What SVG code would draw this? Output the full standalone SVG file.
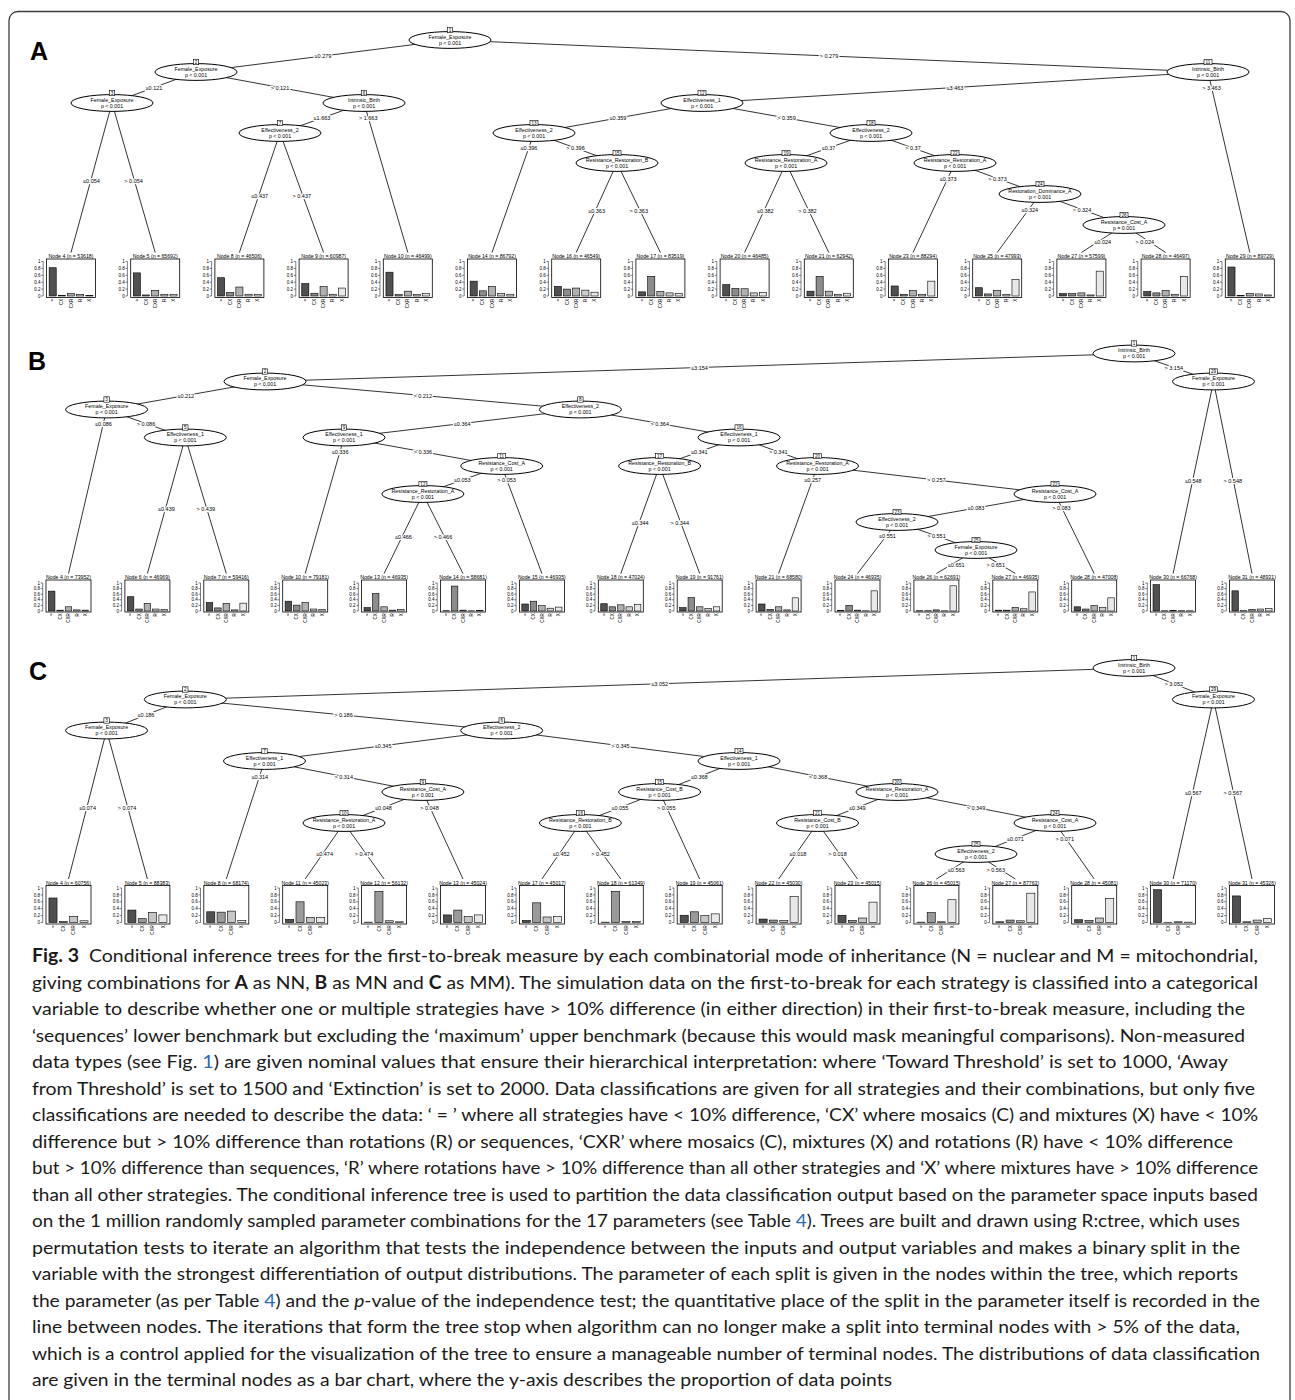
<svg xmlns="http://www.w3.org/2000/svg" xmlns:xlink="http://www.w3.org/1999/xlink" width="1295" height="1400" viewBox="0 0 1295 1400">
<style>
text{font-family:"Liberation Sans",Arial,sans-serif;fill:#000}
.fr{fill:none;stroke:#3c3c3c;stroke-width:1.3}
.pl{font-size:25px;font-weight:bold}
.ed{fill:none;stroke:#000;stroke-width:0.8}
.nd ellipse{fill:#fff;stroke:#000;stroke-width:1}
.nd rect{fill:#fff;stroke:#000;stroke-width:0.6}
.nd text{font-size:5.3px;text-anchor:middle}
.nd text.id{font-size:4.6px}
.el{font-size:5.5px;text-anchor:middle;stroke:#fff;stroke-width:2.4px;paint-order:stroke;stroke-linejoin:round}
.bx{fill:none;stroke:#000;stroke-width:0.8}
.ax{fill:none;stroke:#000;stroke-width:0.5}
.tk{font-size:4.5px;text-anchor:end}
.xl{font-size:4.5px;text-anchor:end}
.tt{font-size:5.2px;text-anchor:middle}
.c1,.c2,.c3,.c4,.c5,.d1,.d2,.d3,.d4{stroke:#000;stroke-width:0.6}
.c1{fill:#505050}.c2{fill:#8c8c8c}.c3{fill:#b0b0b0}.c4{fill:#cecece}.c5{fill:#e8e8e8}
.d1{fill:#505050}.d2{fill:#9a9a9a}.d3{fill:#c6c6c6}.d4{fill:#e8e8e8}
.cap{font-family:Lato,"Open Sans",sans-serif;font-size:18px;fill:#1a1a1a}
.b{font-weight:bold}
.i{font-style:italic}
.lk{fill:#2b6cb0}
</style>
<defs>
<g id="fa">
<rect class="bx" x="0" y="259" width="49" height="38.5"/>
<path class="ax" d="M-3.3,296V261.5M-5.3,296h2M-5.3,289.1h2M-5.3,282.2h2M-5.3,275.3h2M-5.3,268.4h2M-5.3,261.5h2"/>
<text class="tk" x="-6" y="297.6">0</text><text class="tk" x="-6" y="290.7">0.2</text><text class="tk" x="-6" y="283.8">0.4</text><text class="tk" x="-6" y="276.9">0.6</text><text class="tk" x="-6" y="270">0.8</text><text class="tk" x="-6" y="263.1">1</text>
<text class="xl" transform="translate(7.8,298.8) rotate(-90)">=</text>
<text class="xl" transform="translate(16.9,298.8) rotate(-90)">CX</text>
<text class="xl" transform="translate(26.1,298.8) rotate(-90)">CXR</text>
<text class="xl" transform="translate(35.3,298.8) rotate(-90)">R</text>
<text class="xl" transform="translate(44.4,298.8) rotate(-90)">X</text>
</g>
<g id="fb">
<rect class="bx" x="0" y="580" width="45" height="32"/>
<path class="ax" d="M-3.3,611V583M-5.3,611h2M-5.3,605.4h2M-5.3,599.8h2M-5.3,594.2h2M-5.3,588.6h2M-5.3,583h2"/>
<text class="tk" x="-6" y="612.6">0</text><text class="tk" x="-6" y="607">0.2</text><text class="tk" x="-6" y="601.4">0.4</text><text class="tk" x="-6" y="595.8">0.6</text><text class="tk" x="-6" y="590.2">0.8</text><text class="tk" x="-6" y="584.6">1</text>
<text class="xl" transform="translate(7.3,613.3) rotate(-90)">=</text>
<text class="xl" transform="translate(15.7,613.3) rotate(-90)">CX</text>
<text class="xl" transform="translate(24.1,613.3) rotate(-90)">CXR</text>
<text class="xl" transform="translate(32.5,613.3) rotate(-90)">R</text>
<text class="xl" transform="translate(40.9,613.3) rotate(-90)">X</text>
</g>
<g id="fc">
<rect class="bx" x="0" y="885.5" width="45" height="38.5"/>
<path class="ax" d="M-3.3,922.5V888M-5.3,922.5h2M-5.3,915.6h2M-5.3,908.7h2M-5.3,901.8h2M-5.3,894.9h2M-5.3,888h2"/>
<text class="tk" x="-6" y="924.1">0</text><text class="tk" x="-6" y="917.2">0.2</text><text class="tk" x="-6" y="910.3">0.4</text><text class="tk" x="-6" y="903.4">0.6</text><text class="tk" x="-6" y="896.5">0.8</text><text class="tk" x="-6" y="889.6">1</text>
<text class="xl" transform="translate(8.6,925.3) rotate(-90)">=</text>
<text class="xl" transform="translate(18.9,925.3) rotate(-90)">CX</text>
<text class="xl" transform="translate(29.3,925.3) rotate(-90)">CXR</text>
<text class="xl" transform="translate(39.6,925.3) rotate(-90)">X</text>
</g>
</defs>

<rect class="fr" x="9" y="11.5" width="1281" height="1420" rx="9"/>
<text class="pl" x="30" y="60">A</text>
<text class="pl" x="28" y="370">B</text>
<text class="pl" x="29" y="680">C</text>

<g id="connectors">
<path class="ed" d="M450,40L196,72M450,40L1208,72M196,72L112,103M196,72L364,103M112,103L71,252.5M112,103L155.2,252.5M364,103L280,133M364,103L407.8,252.5M280,133L239.4,252.5M280,133L323.6,252.5M1208,72L702,103M1208,72L1249.8,252.5M702,103L534,133M702,103L871,133M534,133L492,252.5M534,133L617,163M617,163L576.2,252.5M617,163L660.4,252.5M871,133L786,163M871,133L955,163M786,163L744.6,252.5M786,163L828.8,252.5M955,163L913,252.5M955,163L1040,194M1040,194L997.2,252.5M1040,194L1124,225M1124,225L1081.4,252.5M1124,225L1165.6,252.5"/>
<path class="ed" d="M1134,353.5L265,381.5M1134,353.5L1213.5,381.5M265,381.5L106.6,409.5M265,381.5L580.4,409.5M106.6,409.5L68.5,573.5M106.6,409.5L185.3,437.5M185.3,437.5L147.4,573.5M185.3,437.5L226.3,573.5M580.4,409.5L344,437.5M580.4,409.5L739,437.5M344,437.5L305.2,573.5M344,437.5L501.7,466M501.7,466L422.9,494M501.7,466L541.9,573.5M422.9,494L384.1,573.5M422.9,494L463,573.5M739,437.5L659.6,466M739,437.5L817.5,466M659.6,466L620.8,573.5M659.6,466L699.7,573.5M817.5,466L778.6,573.5M817.5,466L1055,494M1055,494L897,522M1055,494L1094.2,573.5M897,522L857.5,573.5M897,522L976,550M976,550L936.4,573.5M976,550L1015.3,573.5M1213.5,381.5L1173.1,573.5M1213.5,381.5L1252,573.5"/>
<path class="ed" d="M1134,668L185.3,699.5M1134,668L1213.5,699.5M185.3,699.5L106.6,730.5M185.3,699.5L501.7,730.5M106.6,730.5L68.5,879M106.6,730.5L147.4,879M501.7,730.5L264.5,761M501.7,730.5L739,761M264.5,761L226.3,879M264.5,761L422.9,792M422.9,792L344,823M422.9,792L463,879M344,823L305.2,879M344,823L384.1,879M739,761L659.6,792M739,761L897,792M659.6,792L580.4,823M659.6,792L699.7,879M580.4,823L541.9,879M580.4,823L620.8,879M897,792L817.5,823M897,792L1055,823M817.5,823L778.6,879M817.5,823L857.5,879M1055,823L976,854M1055,823L1094.2,879M976,854L936.4,879M976,854L1015.3,879M1213.5,699.5L1173.1,879M1213.5,699.5L1252,879"/>
<g id="edge-labels-A">
<text class="el" x="323" y="58">≤0.279</text><text class="el" x="829" y="58">&gt; 0.279</text>
<text class="el" x="154" y="89.5">≤0.121</text><text class="el" x="280" y="89.5">&gt; 0.121</text>
<text class="el" x="91.5" y="183">≤0.054</text><text class="el" x="133.6" y="183">&gt; 0.054</text>
<text class="el" x="322" y="120">≤1.663</text><text class="el" x="368.2" y="120">&gt; 1.663</text>
<text class="el" x="259.7" y="198">≤0.437</text><text class="el" x="301.8" y="198">&gt; 0.437</text>
<text class="el" x="955" y="89.5">≤3.463</text><text class="el" x="1211.5" y="89.5">&gt; 3.463</text>
<text class="el" x="618" y="120">≤0.359</text><text class="el" x="786.5" y="120">&gt; 0.359</text>
<text class="el" x="529" y="150">≤0.396</text><text class="el" x="575.5" y="150">&gt; 0.396</text>
<text class="el" x="596.6" y="213">≤0.363</text><text class="el" x="638.7" y="213">&gt; 0.363</text>
<text class="el" x="828.5" y="150">≤0.37</text><text class="el" x="913" y="150">&gt; 0.37</text>
<text class="el" x="765.3" y="213">≤0.382</text><text class="el" x="807.4" y="213">&gt; 0.382</text>
<text class="el" x="948.2" y="180.5">≤0.373</text><text class="el" x="997.5" y="180.5">&gt; 0.373</text>
<text class="el" x="1029.8" y="211.5">≤0.324</text><text class="el" x="1082" y="211.5">&gt; 0.324</text>
<text class="el" x="1102.7" y="244">≤0.024</text><text class="el" x="1144.8" y="244">&gt; 0.024</text>
</g>
<g id="edge-labels-B">
<text class="el" x="699.5" y="369.5">≤3.154</text><text class="el" x="1173.8" y="369.5">&gt; 3.154</text>
<text class="el" x="185.8" y="397.5">≤0.212</text><text class="el" x="422.7" y="397.5">&gt; 0.212</text>
<text class="el" x="103.5" y="425.5">≤0.086</text><text class="el" x="146" y="425.5">&gt; 0.086</text>
<text class="el" x="166.4" y="510.8">≤0.439</text><text class="el" x="205.8" y="510.8">&gt; 0.439</text>
<text class="el" x="462.2" y="425.5">≤0.364</text><text class="el" x="659.7" y="425.5">&gt; 0.364</text>
<text class="el" x="340.1" y="453.8">≤0.336</text><text class="el" x="422.9" y="453.8">&gt; 0.336</text>
<text class="el" x="462.3" y="482">≤0.053</text><text class="el" x="506.6" y="482">&gt; 0.053</text>
<text class="el" x="403.5" y="539">≤0.466</text><text class="el" x="443" y="539">&gt; 0.466</text>
<text class="el" x="699.3" y="453.8">≤0.341</text><text class="el" x="778.3" y="453.8">&gt; 0.341</text>
<text class="el" x="640.2" y="525">≤0.344</text><text class="el" x="679.7" y="525">&gt; 0.344</text>
<text class="el" x="812.7" y="482">≤0.257</text><text class="el" x="936.3" y="482">&gt; 0.257</text>
<text class="el" x="976" y="510">≤0.083</text><text class="el" x="1061.4" y="510">&gt; 0.083</text>
<text class="el" x="887.5" y="538">≤0.551</text><text class="el" x="936.5" y="538">&gt; 0.551</text>
<text class="el" x="956.2" y="567">≤0.651</text><text class="el" x="995.7" y="567">&gt; 0.651</text>
<text class="el" x="1193.3" y="482.8">≤0.548</text><text class="el" x="1232.8" y="482.8">&gt; 0.548</text>
</g>
<g id="edge-labels-C">
<text class="el" x="659.7" y="685.8">≤3.052</text><text class="el" x="1173.8" y="685.8">&gt; 3.052</text>
<text class="el" x="146" y="717">≤0.186</text><text class="el" x="343.5" y="717">&gt; 0.186</text>
<text class="el" x="87.6" y="810">≤0.074</text><text class="el" x="127" y="810">&gt; 0.074</text>
<text class="el" x="383.1" y="747.8">≤0.345</text><text class="el" x="620.4" y="747.8">&gt; 0.345</text>
<text class="el" x="259.8" y="778.5">≤0.314</text><text class="el" x="343.7" y="778.5">&gt; 0.314</text>
<text class="el" x="383.5" y="809.5">≤0.048</text><text class="el" x="429.5" y="809.5">&gt; 0.048</text>
<text class="el" x="324.6" y="856.3">≤0.474</text><text class="el" x="364" y="856.3">&gt; 0.474</text>
<text class="el" x="699.3" y="778.5">≤0.368</text><text class="el" x="818" y="778.5">&gt; 0.368</text>
<text class="el" x="620" y="809.5">≤0.055</text><text class="el" x="666.2" y="809.5">&gt; 0.055</text>
<text class="el" x="561.2" y="856.3">≤0.452</text><text class="el" x="600.6" y="856.3">&gt; 0.452</text>
<text class="el" x="857.3" y="809.5">≤0.349</text><text class="el" x="976" y="809.5">&gt; 0.349</text>
<text class="el" x="798" y="856.3">≤0.018</text><text class="el" x="837.5" y="856.3">&gt; 0.018</text>
<text class="el" x="1015.5" y="840.5">≤0.071</text><text class="el" x="1064.7" y="840.5">&gt; 0.071</text>
<text class="el" x="956.2" y="871.8">≤0.563</text><text class="el" x="995.7" y="871.8">&gt; 0.563</text>
<text class="el" x="1193.3" y="794.5">≤0.567</text><text class="el" x="1232.8" y="794.5">&gt; 0.567</text>
</g>
</g>

<!-- Panel A inner nodes -->
<g id="a-n1" class="nd"><ellipse cx="450" cy="40" rx="41" ry="8.4"/><rect x="447.3" y="27.3" width="5.4" height="5.4"/><text class="id" x="450" y="31.6">1</text><text x="450" y="38.5">Female_Exposure</text><text x="450" y="44.5">p &lt; 0.001</text></g>
<g id="a-n2" class="nd"><ellipse cx="196" cy="72" rx="41" ry="8.4"/><rect x="193.3" y="59.3" width="5.4" height="5.4"/><text class="id" x="196" y="63.6">2</text><text x="196" y="70.5">Female_Exposure</text><text x="196" y="76.5">p &lt; 0.001</text></g>
<g id="a-n3" class="nd"><ellipse cx="112" cy="103" rx="41" ry="8.4"/><rect x="109.3" y="90.3" width="5.4" height="5.4"/><text class="id" x="112" y="94.6">3</text><text x="112" y="101.5">Female_Exposure</text><text x="112" y="107.5">p &lt; 0.001</text></g>
<g id="a-n6" class="nd"><ellipse cx="364" cy="103" rx="41" ry="8.4"/><rect x="361.3" y="90.3" width="5.4" height="5.4"/><text class="id" x="364" y="94.6">6</text><text x="364" y="101.5">Intrinsic_Birth</text><text x="364" y="107.5">p &lt; 0.001</text></g>
<g id="a-n7" class="nd"><ellipse cx="280" cy="133" rx="41" ry="8.4"/><rect x="277.3" y="120.3" width="5.4" height="5.4"/><text class="id" x="280" y="124.6">7</text><text x="280" y="131.5">Effectiveness_2</text><text x="280" y="137.5">p &lt; 0.001</text></g>
<g id="a-n11" class="nd"><ellipse cx="1208" cy="72" rx="41" ry="8.4"/><rect x="1204" y="59.3" width="8" height="5.4"/><text class="id" x="1208" y="63.6">11</text><text x="1208" y="70.5">Intrinsic_Birth</text><text x="1208" y="76.5">p &lt; 0.001</text></g>
<g id="a-n12" class="nd"><ellipse cx="702" cy="103" rx="41" ry="8.4"/><rect x="698" y="90.3" width="8" height="5.4"/><text class="id" x="702" y="94.6">12</text><text x="702" y="101.5">Effectiveness_1</text><text x="702" y="107.5">p &lt; 0.001</text></g>
<g id="a-n13" class="nd"><ellipse cx="534" cy="133" rx="41" ry="8.4"/><rect x="530" y="120.3" width="8" height="5.4"/><text class="id" x="534" y="124.6">13</text><text x="534" y="131.5">Effectiveness_2</text><text x="534" y="137.5">p &lt; 0.001</text></g>
<g id="a-n15" class="nd"><ellipse cx="617" cy="163" rx="41" ry="8.4"/><rect x="613" y="150.3" width="8" height="5.4"/><text class="id" x="617" y="154.6">15</text><text x="617" y="161.5">Resistance_Restoration_B</text><text x="617" y="167.5">p &lt; 0.001</text></g>
<g id="a-n18" class="nd"><ellipse cx="871" cy="133" rx="41" ry="8.4"/><rect x="867" y="120.3" width="8" height="5.4"/><text class="id" x="871" y="124.6">18</text><text x="871" y="131.5">Effectiveness_2</text><text x="871" y="137.5">p &lt; 0.001</text></g>
<g id="a-n19" class="nd"><ellipse cx="786" cy="163" rx="41" ry="8.4"/><rect x="782" y="150.3" width="8" height="5.4"/><text class="id" x="786" y="154.6">19</text><text x="786" y="161.5">Resistance_Restoration_A</text><text x="786" y="167.5">p &lt; 0.001</text></g>
<g id="a-n22" class="nd"><ellipse cx="955" cy="163" rx="41" ry="8.4"/><rect x="951" y="150.3" width="8" height="5.4"/><text class="id" x="955" y="154.6">22</text><text x="955" y="161.5">Resistance_Restoration_A</text><text x="955" y="167.5">p &lt; 0.001</text></g>
<g id="a-n24" class="nd"><ellipse cx="1040" cy="194" rx="41" ry="8.4"/><rect x="1036" y="181.3" width="8" height="5.4"/><text class="id" x="1040" y="185.6">24</text><text x="1040" y="192.5">Restoration_Dominance_A</text><text x="1040" y="198.5">p &lt; 0.001</text></g>
<g id="a-n26" class="nd"><ellipse cx="1124" cy="225" rx="41" ry="8.4"/><rect x="1120" y="212.3" width="8" height="5.4"/><text class="id" x="1124" y="216.6">26</text><text x="1124" y="223.5">Resistance_Cost_A</text><text x="1124" y="229.5">p = 0.001</text></g>

<!-- Panel A terminal nodes -->
<g id="a-t4" transform="translate(46.5,0)"><use href="#fa"/><text class="tt" x="24.5" y="257.9">Node 4 (n = 53618)</text><rect class="c1" x="2.63" y="267.71" width="7.1" height="28.29"/><rect class="c2" x="11.79" y="295.31" width="7.1" height="0.69"/><rect class="c3" x="20.95" y="293.58" width="7.1" height="2.42"/><rect class="c4" x="30.11" y="294.62" width="7.1" height="1.38"/><rect class="c5" x="39.27" y="295.31" width="7.1" height="0.69"/></g>
<g id="a-t5" transform="translate(130.7,0)"><use href="#fa"/><text class="tt" x="24.5" y="257.9">Node 5 (n = 65692)</text><rect class="c1" x="2.63" y="272.88" width="7.1" height="23.12"/><rect class="c2" x="11.79" y="294.96" width="7.1" height="1.04"/><rect class="c3" x="20.95" y="290.48" width="7.1" height="5.52"/><rect class="c4" x="30.11" y="294.27" width="7.1" height="1.73"/><rect class="c5" x="39.27" y="294.27" width="7.1" height="1.73"/></g>
<g id="a-t8" transform="translate(214.9,0)"><use href="#fa"/><text class="tt" x="24.5" y="257.9">Node 8 (n = 46506)</text><rect class="c1" x="2.63" y="277.71" width="7.1" height="18.29"/><rect class="c2" x="11.79" y="292.55" width="7.1" height="3.45"/><rect class="c3" x="20.95" y="287.03" width="7.1" height="8.97"/><rect class="c4" x="30.11" y="294.27" width="7.1" height="1.73"/><rect class="c5" x="39.27" y="294.62" width="7.1" height="1.38"/></g>
<g id="a-t9" transform="translate(299.1,0)"><use href="#fa"/><text class="tt" x="24.5" y="257.9">Node 9 (n = 60987)</text><rect class="c1" x="2.63" y="283.58" width="7.1" height="12.42"/><rect class="c2" x="11.79" y="293.24" width="7.1" height="2.76"/><rect class="c3" x="20.95" y="286.68" width="7.1" height="9.32"/><rect class="c4" x="30.11" y="294.27" width="7.1" height="1.73"/><rect class="c5" x="39.27" y="288.06" width="7.1" height="7.94"/></g>
<g id="a-t10" transform="translate(383.3,0)"><use href="#fa"/><text class="tt" x="24.5" y="257.9">Node 10 (n = 46499)</text><rect class="c1" x="2.63" y="272.19" width="7.1" height="23.81"/><rect class="c2" x="11.79" y="294.62" width="7.1" height="1.38"/><rect class="c3" x="20.95" y="291.17" width="7.1" height="4.83"/><rect class="c4" x="30.11" y="294.62" width="7.1" height="1.38"/><rect class="c5" x="39.27" y="293.58" width="7.1" height="2.42"/></g>
<g id="a-t14" transform="translate(467.5,0)"><use href="#fa"/><text class="tt" x="24.5" y="257.9">Node 14 (n = 86792)</text><rect class="c1" x="2.63" y="281.16" width="7.1" height="14.84"/><rect class="c2" x="11.79" y="290.82" width="7.1" height="5.18"/><rect class="c3" x="20.95" y="286.34" width="7.1" height="9.66"/><rect class="c4" x="30.11" y="293.58" width="7.1" height="2.42"/><rect class="c5" x="39.27" y="294.27" width="7.1" height="1.73"/></g>
<g id="a-t16" transform="translate(551.7,0)"><use href="#fa"/><text class="tt" x="24.5" y="257.9">Node 16 (n = 46549)</text><rect class="c1" x="2.63" y="286.34" width="7.1" height="9.66"/><rect class="c2" x="11.79" y="289.1" width="7.1" height="6.9"/><rect class="c3" x="20.95" y="288.06" width="7.1" height="7.94"/><rect class="c4" x="30.11" y="290.13" width="7.1" height="5.87"/><rect class="c5" x="39.27" y="292.2" width="7.1" height="3.8"/></g>
<g id="a-t17" transform="translate(635.9,0)"><use href="#fa"/><text class="tt" x="24.5" y="257.9">Node 17 (n = 83519)</text><rect class="c1" x="2.63" y="291.86" width="7.1" height="4.14"/><rect class="c2" x="11.79" y="276.33" width="7.1" height="19.67"/><rect class="c3" x="20.95" y="291.51" width="7.1" height="4.49"/><rect class="c4" x="30.11" y="292.89" width="7.1" height="3.11"/><rect class="c5" x="39.27" y="293.58" width="7.1" height="2.42"/></g>
<g id="a-t20" transform="translate(720.1,0)"><use href="#fa"/><text class="tt" x="24.5" y="257.9">Node 20 (n = 46485)</text><rect class="c1" x="2.63" y="284.61" width="7.1" height="11.39"/><rect class="c2" x="11.79" y="288.41" width="7.1" height="7.59"/><rect class="c3" x="20.95" y="288.75" width="7.1" height="7.25"/><rect class="c4" x="30.11" y="292.89" width="7.1" height="3.11"/><rect class="c5" x="39.27" y="292.55" width="7.1" height="3.45"/></g>
<g id="a-t21" transform="translate(804.3,0)"><use href="#fa"/><text class="tt" x="24.5" y="257.9">Node 21 (n = 62942)</text><rect class="c1" x="2.63" y="291.17" width="7.1" height="4.83"/><rect class="c2" x="11.79" y="276.33" width="7.1" height="19.67"/><rect class="c3" x="20.95" y="291.17" width="7.1" height="4.83"/><rect class="c4" x="30.11" y="294.27" width="7.1" height="1.73"/><rect class="c5" x="39.27" y="293.24" width="7.1" height="2.76"/></g>
<g id="a-t23" transform="translate(888.5,0)"><use href="#fa"/><text class="tt" x="24.5" y="257.9">Node 23 (n = 88294)</text><rect class="c1" x="2.63" y="285.99" width="7.1" height="10.01"/><rect class="c2" x="11.79" y="294.27" width="7.1" height="1.73"/><rect class="c3" x="20.95" y="290.48" width="7.1" height="5.52"/><rect class="c4" x="30.11" y="294.27" width="7.1" height="1.73"/><rect class="c5" x="39.27" y="281.16" width="7.1" height="14.84"/></g>
<g id="a-t25" transform="translate(972.7,0)"><use href="#fa"/><text class="tt" x="24.5" y="257.9">Node 25 (n = 47993)</text><rect class="c1" x="2.63" y="287.72" width="7.1" height="8.28"/><rect class="c2" x="11.79" y="293.93" width="7.1" height="2.07"/><rect class="c3" x="20.95" y="290.48" width="7.1" height="5.52"/><rect class="c4" x="30.11" y="294.27" width="7.1" height="1.73"/><rect class="c5" x="39.27" y="279.44" width="7.1" height="16.56"/></g>
<g id="a-t27" transform="translate(1056.9,0)"><use href="#fa"/><text class="tt" x="24.5" y="257.9">Node 27 (n = 57599)</text><rect class="c1" x="2.63" y="293.58" width="7.1" height="2.42"/><rect class="c2" x="11.79" y="293.58" width="7.1" height="2.42"/><rect class="c3" x="20.95" y="292.89" width="7.1" height="3.11"/><rect class="c4" x="30.11" y="294.96" width="7.1" height="1.04"/><rect class="c5" x="39.27" y="271.16" width="7.1" height="24.84"/></g>
<g id="a-t28" transform="translate(1141.1,0)"><use href="#fa"/><text class="tt" x="24.5" y="257.9">Node 28 (n = 46497)</text><rect class="c1" x="2.63" y="291.51" width="7.1" height="4.49"/><rect class="c2" x="11.79" y="292.89" width="7.1" height="3.11"/><rect class="c3" x="20.95" y="290.48" width="7.1" height="5.52"/><rect class="c4" x="30.11" y="294.27" width="7.1" height="1.73"/><rect class="c5" x="39.27" y="276.33" width="7.1" height="19.67"/></g>
<g id="a-t29" transform="translate(1225.3,0)"><use href="#fa"/><text class="tt" x="24.5" y="257.9">Node 29 (n = 89729)</text><rect class="c1" x="2.63" y="267.02" width="7.1" height="28.98"/><rect class="c2" x="11.79" y="295.65" width="7.1" height="0.35"/><rect class="c3" x="20.95" y="293.58" width="7.1" height="2.42"/><rect class="c4" x="30.11" y="293.93" width="7.1" height="2.07"/><rect class="c5" x="39.27" y="294.96" width="7.1" height="1.04"/></g>

<!-- Panel B inner nodes -->
<g id="b-n1" class="nd"><ellipse cx="1134" cy="353.5" rx="41" ry="8.4"/><rect x="1131.3" y="340.8" width="5.4" height="5.4"/><text class="id" x="1134" y="345.1">1</text><text x="1134" y="352">Intrinsic_Birth</text><text x="1134" y="358">p &lt; 0.001</text></g>
<g id="b-n2" class="nd"><ellipse cx="265" cy="381.5" rx="41" ry="8.4"/><rect x="262.3" y="368.8" width="5.4" height="5.4"/><text class="id" x="265" y="373.1">2</text><text x="265" y="380">Female_Exposure</text><text x="265" y="386">p &lt; 0.001</text></g>
<g id="b-n29" class="nd"><ellipse cx="1213.5" cy="381.5" rx="41" ry="8.4"/><rect x="1209.5" y="368.8" width="8" height="5.4"/><text class="id" x="1213.5" y="373.1">29</text><text x="1213.5" y="380">Female_Exposure</text><text x="1213.5" y="386">p &lt; 0.001</text></g>
<g id="b-n3" class="nd"><ellipse cx="106.6" cy="409.5" rx="41" ry="8.4"/><rect x="103.9" y="396.8" width="5.4" height="5.4"/><text class="id" x="106.6" y="401.1">3</text><text x="106.6" y="408">Female_Exposure</text><text x="106.6" y="414">p &lt; 0.001</text></g>
<g id="b-n8" class="nd"><ellipse cx="580.4" cy="409.5" rx="41" ry="8.4"/><rect x="577.7" y="396.8" width="5.4" height="5.4"/><text class="id" x="580.4" y="401.1">8</text><text x="580.4" y="408">Effectiveness_2</text><text x="580.4" y="414">p &lt; 0.001</text></g>
<g id="b-n5" class="nd"><ellipse cx="185.3" cy="437.5" rx="41" ry="8.4"/><rect x="182.6" y="424.8" width="5.4" height="5.4"/><text class="id" x="185.3" y="429.1">5</text><text x="185.3" y="436">Effectiveness_1</text><text x="185.3" y="442">p &lt; 0.001</text></g>
<g id="b-n9" class="nd"><ellipse cx="344" cy="437.5" rx="41" ry="8.4"/><rect x="341.3" y="424.8" width="5.4" height="5.4"/><text class="id" x="344" y="429.1">9</text><text x="344" y="436">Effectiveness_1</text><text x="344" y="442">p &lt; 0.001</text></g>
<g id="b-n16" class="nd"><ellipse cx="739" cy="437.5" rx="41" ry="8.4"/><rect x="735" y="424.8" width="8" height="5.4"/><text class="id" x="739" y="429.1">16</text><text x="739" y="436">Effectiveness_1</text><text x="739" y="442">p &lt; 0.001</text></g>
<g id="b-n11" class="nd"><ellipse cx="501.7" cy="466" rx="41" ry="8.4"/><rect x="497.7" y="453.3" width="8" height="5.4"/><text class="id" x="501.7" y="457.6">11</text><text x="501.7" y="464.5">Resistance_Cost_A</text><text x="501.7" y="470.5">p &lt; 0.001</text></g>
<g id="b-n17" class="nd"><ellipse cx="659.6" cy="466" rx="41" ry="8.4"/><rect x="655.6" y="453.3" width="8" height="5.4"/><text class="id" x="659.6" y="457.6">17</text><text x="659.6" y="464.5">Resistance_Restoration_B</text><text x="659.6" y="470.5">p &lt; 0.001</text></g>
<g id="b-n20" class="nd"><ellipse cx="817.5" cy="466" rx="41" ry="8.4"/><rect x="813.5" y="453.3" width="8" height="5.4"/><text class="id" x="817.5" y="457.6">20</text><text x="817.5" y="464.5">Resistance_Restoration_A</text><text x="817.5" y="470.5">p &lt; 0.001</text></g>
<g id="b-n12" class="nd"><ellipse cx="422.9" cy="494" rx="41" ry="8.4"/><rect x="418.9" y="481.3" width="8" height="5.4"/><text class="id" x="422.9" y="485.6">12</text><text x="422.9" y="492.5">Resistance_Restoration_A</text><text x="422.9" y="498.5">p &lt; 0.001</text></g>
<g id="b-n22" class="nd"><ellipse cx="1055" cy="494" rx="41" ry="8.4"/><rect x="1051" y="481.3" width="8" height="5.4"/><text class="id" x="1055" y="485.6">22</text><text x="1055" y="492.5">Resistance_Cost_A</text><text x="1055" y="498.5">p &lt; 0.001</text></g>
<g id="b-n23" class="nd"><ellipse cx="897" cy="522" rx="41" ry="8.4"/><rect x="893" y="509.3" width="8" height="5.4"/><text class="id" x="897" y="513.6">23</text><text x="897" y="520.5">Effectiveness_2</text><text x="897" y="526.5">p &lt; 0.001</text></g>
<g id="b-n25" class="nd"><ellipse cx="976" cy="550" rx="41" ry="8.4"/><rect x="972" y="537.3" width="8" height="5.4"/><text class="id" x="976" y="541.6">25</text><text x="976" y="548.5">Female_Exposure</text><text x="976" y="554.5">p &lt; 0.001</text></g>

<!-- Panel B terminal nodes -->
<g id="b-t4" transform="translate(46,0)"><use href="#fb"/><text class="tt" x="22.5" y="578.8">Node 4 (n = 73952)</text><rect class="c1" x="2.43" y="591.12" width="6.5" height="19.88"/><rect class="c2" x="10.84" y="610.16" width="6.5" height="0.84"/><rect class="c3" x="19.25" y="606.8" width="6.5" height="4.2"/><rect class="c4" x="27.66" y="609.88" width="6.5" height="1.12"/><rect class="c5" x="36.07" y="610.16" width="6.5" height="0.84"/></g>
<g id="b-t6" transform="translate(124.9,0)"><use href="#fb"/><text class="tt" x="22.5" y="578.8">Node 6 (n = 46969)</text><rect class="c1" x="2.43" y="596.72" width="6.5" height="14.28"/><rect class="c2" x="10.84" y="609.04" width="6.5" height="1.96"/><rect class="c3" x="19.25" y="603.44" width="6.5" height="7.56"/><rect class="c4" x="27.66" y="609.04" width="6.5" height="1.96"/><rect class="c5" x="36.07" y="609.6" width="6.5" height="1.4"/></g>
<g id="b-t7" transform="translate(203.8,0)"><use href="#fb"/><text class="tt" x="22.5" y="578.8">Node 7 (n = 59416)</text><rect class="c1" x="2.43" y="602.6" width="6.5" height="8.4"/><rect class="c2" x="10.84" y="607.92" width="6.5" height="3.08"/><rect class="c3" x="19.25" y="603.44" width="6.5" height="7.56"/><rect class="c4" x="27.66" y="609.88" width="6.5" height="1.12"/><rect class="c5" x="36.07" y="603.16" width="6.5" height="7.84"/></g>
<g id="b-t10" transform="translate(282.7,0)"><use href="#fb"/><text class="tt" x="22.5" y="578.8">Node 10 (n = 79181)</text><rect class="c1" x="2.43" y="601.2" width="6.5" height="9.8"/><rect class="c2" x="10.84" y="605.12" width="6.5" height="5.88"/><rect class="c3" x="19.25" y="602.6" width="6.5" height="8.4"/><rect class="c4" x="27.66" y="609.04" width="6.5" height="1.96"/><rect class="c5" x="36.07" y="609.32" width="6.5" height="1.68"/></g>
<g id="b-t13" transform="translate(361.6,0)"><use href="#fb"/><text class="tt" x="22.5" y="578.8">Node 13 (n = 46935)</text><rect class="c1" x="2.43" y="607.64" width="6.5" height="3.36"/><rect class="c2" x="10.84" y="593.64" width="6.5" height="17.36"/><rect class="c3" x="19.25" y="606.8" width="6.5" height="4.2"/><rect class="c4" x="27.66" y="610.16" width="6.5" height="0.84"/><rect class="c5" x="36.07" y="609.32" width="6.5" height="1.68"/></g>
<g id="b-t14" transform="translate(440.5,0)"><use href="#fb"/><text class="tt" x="22.5" y="578.8">Node 14 (n = 58681)</text><rect class="c1" x="2.43" y="610.72" width="6.5" height="0.28"/><rect class="c2" x="10.84" y="586.08" width="6.5" height="24.92"/><rect class="c3" x="19.25" y="610.16" width="6.5" height="0.84"/><rect class="c4" x="27.66" y="610.8" width="6.5" height="0.2"/><rect class="c5" x="36.07" y="610.44" width="6.5" height="0.56"/></g>
<g id="b-t15" transform="translate(519.4,0)"><use href="#fb"/><text class="tt" x="22.5" y="578.8">Node 15 (n = 46935)</text><rect class="c1" x="2.43" y="604" width="6.5" height="7"/><rect class="c2" x="10.84" y="601.2" width="6.5" height="9.8"/><rect class="c3" x="19.25" y="605.68" width="6.5" height="5.32"/><rect class="c4" x="27.66" y="608.2" width="6.5" height="2.8"/><rect class="c5" x="36.07" y="607.08" width="6.5" height="3.92"/></g>
<g id="b-t18" transform="translate(598.3,0)"><use href="#fb"/><text class="tt" x="22.5" y="578.8">Node 18 (n = 47024)</text><rect class="c1" x="2.43" y="603.72" width="6.5" height="7.28"/><rect class="c2" x="10.84" y="606.8" width="6.5" height="4.2"/><rect class="c3" x="19.25" y="604.84" width="6.5" height="6.16"/><rect class="c4" x="27.66" y="606.8" width="6.5" height="4.2"/><rect class="c5" x="36.07" y="604.28" width="6.5" height="6.72"/></g>
<g id="b-t19" transform="translate(677.2,0)"><use href="#fb"/><text class="tt" x="22.5" y="578.8">Node 19 (n = 91761)</text><rect class="c1" x="2.43" y="607.64" width="6.5" height="3.36"/><rect class="c2" x="10.84" y="597.56" width="6.5" height="13.44"/><rect class="c3" x="19.25" y="606.8" width="6.5" height="4.2"/><rect class="c4" x="27.66" y="608.48" width="6.5" height="2.52"/><rect class="c5" x="36.07" y="606.8" width="6.5" height="4.2"/></g>
<g id="b-t21" transform="translate(756.1,0)"><use href="#fb"/><text class="tt" x="22.5" y="578.8">Node 21 (n = 68580)</text><rect class="c1" x="2.43" y="604" width="6.5" height="7"/><rect class="c2" x="10.84" y="609.32" width="6.5" height="1.68"/><rect class="c3" x="19.25" y="606.8" width="6.5" height="4.2"/><rect class="c4" x="27.66" y="609.88" width="6.5" height="1.12"/><rect class="c5" x="36.07" y="597.84" width="6.5" height="13.16"/></g>
<g id="b-t24" transform="translate(835,0)"><use href="#fb"/><text class="tt" x="22.5" y="578.8">Node 24 (n = 46935)</text><rect class="c1" x="2.43" y="610.44" width="6.5" height="0.56"/><rect class="c2" x="10.84" y="605.4" width="6.5" height="5.6"/><rect class="c3" x="19.25" y="610.16" width="6.5" height="0.84"/><rect class="c4" x="27.66" y="610.8" width="6.5" height="0.2"/><rect class="c5" x="36.07" y="590.84" width="6.5" height="20.16"/></g>
<g id="b-t26" transform="translate(913.9,0)"><use href="#fb"/><text class="tt" x="22.5" y="578.8">Node 26 (n = 62691)</text><rect class="c1" x="2.43" y="610.72" width="6.5" height="0.28"/><rect class="c2" x="10.84" y="610.72" width="6.5" height="0.28"/><rect class="c3" x="19.25" y="609.88" width="6.5" height="1.12"/><rect class="c4" x="27.66" y="610.8" width="6.5" height="0.2"/><rect class="c5" x="36.07" y="585.8" width="6.5" height="25.2"/></g>
<g id="b-t27" transform="translate(992.8,0)"><use href="#fb"/><text class="tt" x="22.5" y="578.8">Node 27 (n = 46935)</text><rect class="c1" x="2.43" y="610.16" width="6.5" height="0.84"/><rect class="c2" x="10.84" y="610.16" width="6.5" height="0.84"/><rect class="c3" x="19.25" y="607.36" width="6.5" height="3.64"/><rect class="c4" x="27.66" y="608.76" width="6.5" height="2.24"/><rect class="c5" x="36.07" y="591.96" width="6.5" height="19.04"/></g>
<g id="b-t28" transform="translate(1071.7,0)"><use href="#fb"/><text class="tt" x="22.5" y="578.8">Node 28 (n = 47008)</text><rect class="c1" x="2.43" y="606.8" width="6.5" height="4.2"/><rect class="c2" x="10.84" y="609.04" width="6.5" height="1.96"/><rect class="c3" x="19.25" y="605.68" width="6.5" height="5.32"/><rect class="c4" x="27.66" y="607.64" width="6.5" height="3.36"/><rect class="c5" x="36.07" y="597.84" width="6.5" height="13.16"/></g>
<g id="b-t30" transform="translate(1150.6,0)"><use href="#fb"/><text class="tt" x="22.5" y="578.8">Node 30 (n = 66768)</text><rect class="c1" x="2.43" y="584.68" width="6.5" height="26.32"/><rect class="c2" x="10.84" y="610.8" width="6.5" height="0.2"/><rect class="c3" x="19.25" y="610.44" width="6.5" height="0.56"/><rect class="c4" x="27.66" y="610.72" width="6.5" height="0.28"/><rect class="c5" x="36.07" y="610.8" width="6.5" height="0.2"/></g>
<g id="b-t31" transform="translate(1229.5,0)"><use href="#fb"/><text class="tt" x="22.5" y="578.8">Node 31 (n = 48931)</text><rect class="c1" x="2.43" y="590.84" width="6.5" height="20.16"/><rect class="c2" x="10.84" y="610.72" width="6.5" height="0.28"/><rect class="c3" x="19.25" y="609.32" width="6.5" height="1.68"/><rect class="c4" x="27.66" y="609.04" width="6.5" height="1.96"/><rect class="c5" x="36.07" y="608.48" width="6.5" height="2.52"/></g>

<!-- Panel C inner nodes -->
<g id="c-n1" class="nd"><ellipse cx="1134" cy="668" rx="41" ry="8.4"/><rect x="1131.3" y="655.3" width="5.4" height="5.4"/><text class="id" x="1134" y="659.6">1</text><text x="1134" y="666.5">Intrinsic_Birth</text><text x="1134" y="672.5">p &lt; 0.001</text></g>
<g id="c-n2" class="nd"><ellipse cx="185.3" cy="699.5" rx="41" ry="8.4"/><rect x="182.6" y="686.8" width="5.4" height="5.4"/><text class="id" x="185.3" y="691.1">2</text><text x="185.3" y="698">Female_Exposure</text><text x="185.3" y="704">p &lt; 0.001</text></g>
<g id="c-n29" class="nd"><ellipse cx="1213.5" cy="699.5" rx="41" ry="8.4"/><rect x="1209.5" y="686.8" width="8" height="5.4"/><text class="id" x="1213.5" y="691.1">29</text><text x="1213.5" y="698">Female_Exposure</text><text x="1213.5" y="704">p &lt; 0.001</text></g>
<g id="c-n3" class="nd"><ellipse cx="106.6" cy="730.5" rx="41" ry="8.4"/><rect x="103.9" y="717.8" width="5.4" height="5.4"/><text class="id" x="106.6" y="722.1">3</text><text x="106.6" y="729">Female_Exposure</text><text x="106.6" y="735">p &lt; 0.001</text></g>
<g id="c-n6" class="nd"><ellipse cx="501.7" cy="730.5" rx="41" ry="8.4"/><rect x="499" y="717.8" width="5.4" height="5.4"/><text class="id" x="501.7" y="722.1">6</text><text x="501.7" y="729">Effectiveness_2</text><text x="501.7" y="735">p &lt; 0.001</text></g>
<g id="c-n7" class="nd"><ellipse cx="264.5" cy="761" rx="41" ry="8.4"/><rect x="261.8" y="748.3" width="5.4" height="5.4"/><text class="id" x="264.5" y="752.6">7</text><text x="264.5" y="759.5">Effectiveness_1</text><text x="264.5" y="765.5">p &lt; 0.001</text></g>
<g id="c-n14" class="nd"><ellipse cx="739" cy="761" rx="41" ry="8.4"/><rect x="735" y="748.3" width="8" height="5.4"/><text class="id" x="739" y="752.6">14</text><text x="739" y="759.5">Effectiveness_1</text><text x="739" y="765.5">p &lt; 0.001</text></g>
<g id="c-n9" class="nd"><ellipse cx="422.9" cy="792" rx="41" ry="8.4"/><rect x="420.2" y="779.3" width="5.4" height="5.4"/><text class="id" x="422.9" y="783.6">9</text><text x="422.9" y="790.5">Resistance_Cost_A</text><text x="422.9" y="796.5">p &lt; 0.001</text></g>
<g id="c-n15" class="nd"><ellipse cx="659.6" cy="792" rx="41" ry="8.4"/><rect x="655.6" y="779.3" width="8" height="5.4"/><text class="id" x="659.6" y="783.6">15</text><text x="659.6" y="790.5">Resistance_Cost_B</text><text x="659.6" y="796.5">p &lt; 0.001</text></g>
<g id="c-n20" class="nd"><ellipse cx="897" cy="792" rx="41" ry="8.4"/><rect x="893" y="779.3" width="8" height="5.4"/><text class="id" x="897" y="783.6">20</text><text x="897" y="790.5">Resistance_Restoration_A</text><text x="897" y="796.5">p &lt; 0.001</text></g>
<g id="c-n10" class="nd"><ellipse cx="344" cy="823" rx="41" ry="8.4"/><rect x="340" y="810.3" width="8" height="5.4"/><text class="id" x="344" y="814.6">10</text><text x="344" y="821.5">Resistance_Restoration_A</text><text x="344" y="827.5">p &lt; 0.001</text></g>
<g id="c-n16" class="nd"><ellipse cx="580.4" cy="823" rx="41" ry="8.4"/><rect x="576.4" y="810.3" width="8" height="5.4"/><text class="id" x="580.4" y="814.6">16</text><text x="580.4" y="821.5">Resistance_Restoration_B</text><text x="580.4" y="827.5">p &lt; 0.001</text></g>
<g id="c-n21" class="nd"><ellipse cx="817.5" cy="823" rx="41" ry="8.4"/><rect x="813.5" y="810.3" width="8" height="5.4"/><text class="id" x="817.5" y="814.6">21</text><text x="817.5" y="821.5">Resistance_Cost_B</text><text x="817.5" y="827.5">p &lt; 0.001</text></g>
<g id="c-n24" class="nd"><ellipse cx="1055" cy="823" rx="41" ry="8.4"/><rect x="1051" y="810.3" width="8" height="5.4"/><text class="id" x="1055" y="814.6">24</text><text x="1055" y="821.5">Resistance_Cost_A</text><text x="1055" y="827.5">p &lt; 0.001</text></g>
<g id="c-n25" class="nd"><ellipse cx="976" cy="854" rx="41" ry="8.4"/><rect x="972" y="841.3" width="8" height="5.4"/><text class="id" x="976" y="845.6">25</text><text x="976" y="852.5">Effectiveness_2</text><text x="976" y="858.5">p &lt; 0.001</text></g>

<!-- Panel C terminal nodes -->
<g id="c-t4" transform="translate(46,0)"><use href="#fc"/><text class="tt" x="22.5" y="884.6">Node 4 (n = 60756)</text><rect class="d1" x="2.94" y="898" width="8.1" height="24.5"/><rect class="d2" x="13.28" y="921.46" width="8.1" height="1.04"/><rect class="d3" x="23.62" y="916.29" width="8.1" height="6.21"/><rect class="d4" x="33.96" y="920.77" width="8.1" height="1.73"/></g>
<g id="c-t5" transform="translate(124.9,0)"><use href="#fc"/><text class="tt" x="22.5" y="884.6">Node 5 (n = 88383)</text><rect class="d1" x="2.94" y="910.08" width="8.1" height="12.42"/><rect class="d2" x="13.28" y="918.7" width="8.1" height="3.8"/><rect class="d3" x="23.62" y="912.5" width="8.1" height="10"/><rect class="d4" x="33.96" y="914.91" width="8.1" height="7.59"/></g>
<g id="c-t8" transform="translate(203.8,0)"><use href="#fc"/><text class="tt" x="22.5" y="884.6">Node 8 (n = 68174)</text><rect class="d1" x="2.94" y="911.8" width="8.1" height="10.7"/><rect class="d2" x="13.28" y="912.15" width="8.1" height="10.35"/><rect class="d3" x="23.62" y="911.11" width="8.1" height="11.39"/><rect class="d4" x="33.96" y="920.43" width="8.1" height="2.07"/></g>
<g id="c-t11" transform="translate(282.7,0)"><use href="#fc"/><text class="tt" x="22.5" y="884.6">Node 11 (n = 45023)</text><rect class="d1" x="2.94" y="919.39" width="8.1" height="3.11"/><rect class="d2" x="13.28" y="901.8" width="8.1" height="20.7"/><rect class="d3" x="23.62" y="917.32" width="8.1" height="5.18"/><rect class="d4" x="33.96" y="917.32" width="8.1" height="5.18"/></g>
<g id="c-t12" transform="translate(361.6,0)"><use href="#fc"/><text class="tt" x="22.5" y="884.6">Node 12 (n = 56132)</text><rect class="d1" x="2.94" y="922.15" width="8.1" height="0.35"/><rect class="d2" x="13.28" y="891.45" width="8.1" height="31.05"/><rect class="d3" x="23.62" y="920.77" width="8.1" height="1.73"/><rect class="d4" x="33.96" y="921.81" width="8.1" height="0.69"/></g>
<g id="c-t13" transform="translate(440.5,0)"><use href="#fc"/><text class="tt" x="22.5" y="884.6">Node 13 (n = 45024)</text><rect class="d1" x="2.94" y="914.91" width="8.1" height="7.59"/><rect class="d2" x="13.28" y="910.08" width="8.1" height="12.42"/><rect class="d3" x="23.62" y="916.63" width="8.1" height="5.87"/><rect class="d4" x="33.96" y="914.91" width="8.1" height="7.59"/></g>
<g id="c-t17" transform="translate(519.4,0)"><use href="#fc"/><text class="tt" x="22.5" y="884.6">Node 17 (n = 45017)</text><rect class="d1" x="2.94" y="920.43" width="8.1" height="2.07"/><rect class="d2" x="13.28" y="902.83" width="8.1" height="19.67"/><rect class="d3" x="23.62" y="916.98" width="8.1" height="5.52"/><rect class="d4" x="33.96" y="916.29" width="8.1" height="6.21"/></g>
<g id="c-t18" transform="translate(598.3,0)"><use href="#fc"/><text class="tt" x="22.5" y="884.6">Node 18 (n = 61349)</text><rect class="d1" x="2.94" y="922.15" width="8.1" height="0.35"/><rect class="d2" x="13.28" y="891.45" width="8.1" height="31.05"/><rect class="d3" x="23.62" y="921.46" width="8.1" height="1.04"/><rect class="d4" x="33.96" y="921.46" width="8.1" height="1.04"/></g>
<g id="c-t19" transform="translate(677.2,0)"><use href="#fc"/><text class="tt" x="22.5" y="884.6">Node 19 (n = 45061)</text><rect class="d1" x="2.94" y="915.25" width="8.1" height="7.25"/><rect class="d2" x="13.28" y="911.8" width="8.1" height="10.7"/><rect class="d3" x="23.62" y="915.6" width="8.1" height="6.9"/><rect class="d4" x="33.96" y="913.87" width="8.1" height="8.63"/></g>
<g id="c-t22" transform="translate(756.1,0)"><use href="#fc"/><text class="tt" x="22.5" y="884.6">Node 22 (n = 45030)</text><rect class="d1" x="2.94" y="919.05" width="8.1" height="3.45"/><rect class="d2" x="13.28" y="920.08" width="8.1" height="2.42"/><rect class="d3" x="23.62" y="920.43" width="8.1" height="2.07"/><rect class="d4" x="33.96" y="896.62" width="8.1" height="25.88"/></g>
<g id="c-t23" transform="translate(835,0)"><use href="#fc"/><text class="tt" x="22.5" y="884.6">Node 23 (n = 45015)</text><rect class="d1" x="2.94" y="915.25" width="8.1" height="7.25"/><rect class="d2" x="13.28" y="920.43" width="8.1" height="2.07"/><rect class="d3" x="23.62" y="918.01" width="8.1" height="4.49"/><rect class="d4" x="33.96" y="902.14" width="8.1" height="20.36"/></g>
<g id="c-t26" transform="translate(913.9,0)"><use href="#fc"/><text class="tt" x="22.5" y="884.6">Node 26 (n = 45015)</text><rect class="d1" x="2.94" y="922.15" width="8.1" height="0.35"/><rect class="d2" x="13.28" y="912.5" width="8.1" height="10"/><rect class="d3" x="23.62" y="921.81" width="8.1" height="0.69"/><rect class="d4" x="33.96" y="899.73" width="8.1" height="22.77"/></g>
<g id="c-t27" transform="translate(992.8,0)"><use href="#fc"/><text class="tt" x="22.5" y="884.6">Node 27 (n = 87763)</text><rect class="d1" x="2.94" y="921.81" width="8.1" height="0.69"/><rect class="d2" x="13.28" y="920.08" width="8.1" height="2.42"/><rect class="d3" x="23.62" y="920.77" width="8.1" height="1.73"/><rect class="d4" x="33.96" y="893.17" width="8.1" height="29.33"/></g>
<g id="c-t28" transform="translate(1071.7,0)"><use href="#fc"/><text class="tt" x="22.5" y="884.6">Node 28 (n = 45081)</text><rect class="d1" x="2.94" y="919.74" width="8.1" height="2.76"/><rect class="d2" x="13.28" y="920.43" width="8.1" height="2.07"/><rect class="d3" x="23.62" y="918.01" width="8.1" height="4.49"/><rect class="d4" x="33.96" y="898.69" width="8.1" height="23.81"/></g>
<g id="c-t30" transform="translate(1150.6,0)"><use href="#fc"/><text class="tt" x="22.5" y="884.6">Node 30 (n = 71170)</text><rect class="d1" x="2.94" y="889.72" width="8.1" height="32.78"/><rect class="d2" x="13.28" y="922.3" width="8.1" height="0.2"/><rect class="d3" x="23.62" y="921.81" width="8.1" height="0.69"/><rect class="d4" x="33.96" y="922.15" width="8.1" height="0.35"/></g>
<g id="c-t31" transform="translate(1229.5,0)"><use href="#fc"/><text class="tt" x="22.5" y="884.6">Node 31 (n = 45326)</text><rect class="d1" x="2.94" y="895.93" width="8.1" height="26.57"/><rect class="d2" x="13.28" y="921.81" width="8.1" height="0.69"/><rect class="d3" x="23.62" y="920.08" width="8.1" height="2.42"/><rect class="d4" x="33.96" y="918.7" width="8.1" height="3.8"/></g>

<!-- Caption -->
<g id="caption">
<text class="cap" x="32" y="962" textLength="1226" lengthAdjust="spacingAndGlyphs"><tspan class="b">Fig. 3</tspan>&#160;&#160;Conditional inference trees for the first-to-break measure by each combinatorial mode of inheritance (N = nuclear and M = mitochondrial,</text>
<text class="cap" x="32" y="988.5" textLength="1226" lengthAdjust="spacingAndGlyphs">giving combinations for <tspan class="b">A</tspan> as NN, <tspan class="b">B</tspan> as MN and <tspan class="b">C</tspan> as MM). The simulation data on the first-to-break for each strategy is classified into a categorical</text>
<text class="cap" x="32" y="1015" textLength="1213" lengthAdjust="spacingAndGlyphs">variable to describe whether one or multiple strategies have &gt; 10% difference (in either direction) in their first-to-break measure, including the</text>
<text class="cap" x="32" y="1041.5" textLength="1213" lengthAdjust="spacingAndGlyphs">‘sequences’ lower benchmark but excluding the ‘maximum’ upper benchmark (because this would mask meaningful comparisons). Non-measured</text>
<text class="cap" x="32" y="1068" textLength="1196" lengthAdjust="spacingAndGlyphs">data types (see Fig. <tspan class="lk">1</tspan>) are given nominal values that ensure their hierarchical interpretation: where ‘Toward Threshold’ is set to 1000, ‘Away</text>
<text class="cap" x="32" y="1094.5" textLength="1223" lengthAdjust="spacingAndGlyphs">from Threshold’ is set to 1500 and ‘Extinction’ is set to 2000. Data classifications are given for all strategies and their combinations, but only five</text>
<text class="cap" x="32" y="1121" textLength="1226" lengthAdjust="spacingAndGlyphs">classifications are needed to describe the data: ‘ = ’ where all strategies have &lt; 10% difference, ‘CX’ where mosaics (C) and mixtures (X) have &lt; 10%</text>
<text class="cap" x="32" y="1147.5" textLength="1201" lengthAdjust="spacingAndGlyphs">difference but &gt; 10% difference than rotations (R) or sequences, ‘CXR’ where mosaics (C), mixtures (X) and rotations (R) have &lt; 10% difference</text>
<text class="cap" x="32" y="1174" textLength="1226" lengthAdjust="spacingAndGlyphs">but &gt; 10% difference than sequences, ‘R’ where rotations have &gt; 10% difference than all other strategies and ‘X’ where mixtures have &gt; 10% difference</text>
<text class="cap" x="32" y="1200.5" textLength="1226" lengthAdjust="spacingAndGlyphs">than all other strategies. The conditional inference tree is used to partition the data classification output based on the parameter space inputs based</text>
<text class="cap" x="32" y="1227" textLength="1208" lengthAdjust="spacingAndGlyphs">on the 1 million randomly sampled parameter combinations for the 17 parameters (see Table <tspan class="lk">4</tspan>). Trees are built and drawn using R:ctree, which uses</text>
<text class="cap" x="32" y="1253.5" textLength="1208" lengthAdjust="spacingAndGlyphs">permutation tests to iterate an algorithm that tests the independence between the inputs and output variables and makes a binary split in the</text>
<text class="cap" x="32" y="1280" textLength="1206" lengthAdjust="spacingAndGlyphs">variable with the strongest differentiation of output distributions. The parameter of each split is given in the nodes within the tree, which reports</text>
<text class="cap" x="32" y="1306.5" textLength="1228" lengthAdjust="spacingAndGlyphs">the parameter (as per Table <tspan class="lk">4</tspan>) and the <tspan class="i">p</tspan>-value of the independence test; the quantitative place of the split in the parameter itself is recorded in the</text>
<text class="cap" x="32" y="1333" textLength="1208" lengthAdjust="spacingAndGlyphs">line between nodes. The iterations that form the tree stop when algorithm can no longer make a split into terminal nodes with &gt; 5% of the data,</text>
<text class="cap" x="32" y="1359.5" textLength="1228" lengthAdjust="spacingAndGlyphs">which is a control applied for the visualization of the tree to ensure a manageable number of terminal nodes. The distributions of data classification</text>
<text class="cap" x="32" y="1386" textLength="860" lengthAdjust="spacingAndGlyphs">are given in the terminal nodes as a bar chart, where the y-axis describes the proportion of data points</text>
</g>
</svg>
